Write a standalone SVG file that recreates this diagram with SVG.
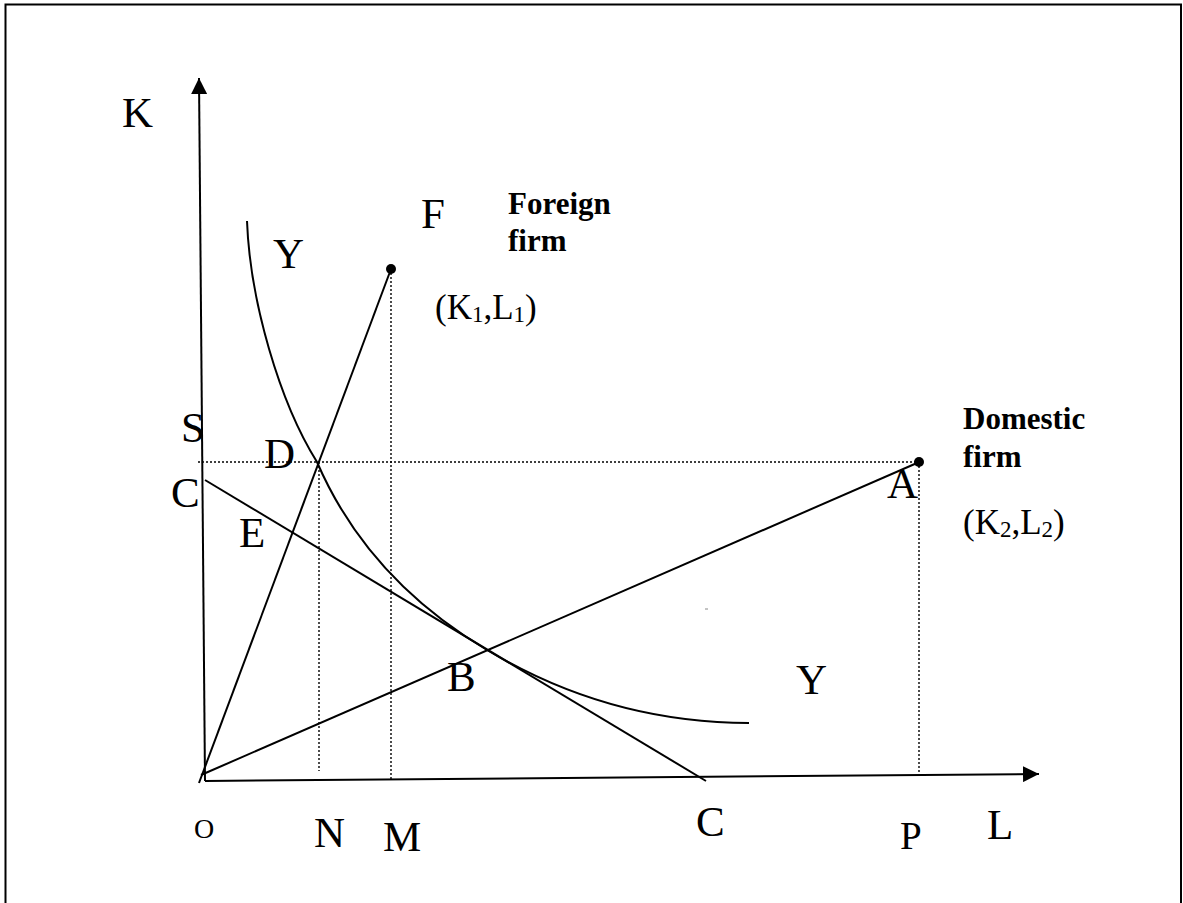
<svg xmlns="http://www.w3.org/2000/svg" width="1183" height="903" viewBox="0 0 1183 903">
<style>
  .ln{stroke:#000;stroke-width:2;fill:none}
  .dot{stroke:#000;stroke-width:1.4;stroke-dasharray:2 2;fill:none}
  .t{font-family:"Liberation Serif","Times New Roman",serif;font-size:43px;fill:#000}
  .b{font-family:"Liberation Serif","Times New Roman",serif;font-size:31px;font-weight:bold;fill:#000}
  .c{font-family:"Liberation Serif","Times New Roman",serif;font-size:35px;fill:#000}
  .s{font-size:23px}
</style>
<defs>
  <marker id="arr" viewBox="0 0 16 16" refX="16" refY="8" markerWidth="16" markerHeight="16" markerUnits="userSpaceOnUse" orient="auto">
    <path d="M0,0 L16,8 L0,16 z" fill="#000"/>
  </marker>
</defs>
<rect x="0" y="0" width="1183" height="903" fill="#fff"/>
<path d="M5.5,910 L5.5,4.5 L1181,4.5 L1181,910" stroke="#000" stroke-width="2" fill="none"/>

<g id="connectors">
  <line id="axis-K" class="ln" x1="205" y1="781" x2="199" y2="78" marker-end="url(#arr)"/>
  <line id="axis-L" class="ln" x1="205" y1="781" x2="1039" y2="774" marker-end="url(#arr)"/>
  <line id="ray-OF" class="ln" x1="199" y1="783" x2="391" y2="269"/>
  <line id="ray-OA" class="ln" x1="201" y1="775" x2="917" y2="463"/>
  <line id="budget-CC" class="ln" x1="205" y1="480" x2="706" y2="781"/>
  <path id="isoquant-Y" class="ln" d="M247,221 C250,301 279.5,402 317,462 C355,550 420,610 487,650 C587,710 680,723 749,723"/>
  <line class="dot" x1="198" y1="462" x2="919" y2="462"/>
  <line class="dot" x1="391" y1="269" x2="391" y2="780"/>
  <line class="dot" x1="319" y1="462" x2="319" y2="771"/>
  <line class="dot" x1="919" y1="462" x2="919" y2="773"/>
  <line x1="705" y1="609" x2="708" y2="609" stroke="#888" stroke-width="1"/>
</g>

<g id="node-F">
  <circle cx="391" cy="269" r="5" fill="#000"/>
  <text class="t" x="421" y="228">F</text>
  <text class="b" x="508" y="214">Foreign</text>
  <text class="b" x="508" y="251">firm</text>
  <text class="c" x="435" y="319">(K<tspan class="s" dy="3">1</tspan><tspan dy="-3">,L</tspan><tspan class="s" dy="3">1</tspan><tspan dy="-3">)</tspan></text>
</g>

<g id="node-A">
  <circle cx="919" cy="462" r="5" fill="#000"/>
  <text class="t" x="887" y="498">A</text>
  <text class="b" x="963" y="429">Domestic</text>
  <text class="b" x="963" y="467">firm</text>
  <text class="c" x="963" y="534">(K<tspan class="s" dy="3">2</tspan><tspan dy="-3">,L</tspan><tspan class="s" dy="3">2</tspan><tspan dy="-3">)</tspan></text>
</g>

<g id="labels">
  <text class="t" x="122" y="127">K</text>
  <text class="t" x="273" y="268">Y</text>
  <text class="t" x="181" y="442">S</text>
  <text class="t" x="264" y="468">D</text>
  <text class="t" x="171" y="507">C</text>
  <text class="t" x="239" y="547">E</text>
  <text class="t" x="447" y="691">B</text>
  <text class="t" x="796" y="694">Y</text>
  <text class="t" x="194" y="838" style="font-size:28px">O</text>
  <text class="t" x="314" y="847">N</text>
  <text class="t" x="383" y="851">M</text>
  <text class="t" x="696" y="836">C</text>
  <text class="t" x="900" y="849" style="font-size:39px">P</text>
  <text class="t" x="987" y="839">L</text>
</g>
</svg>
